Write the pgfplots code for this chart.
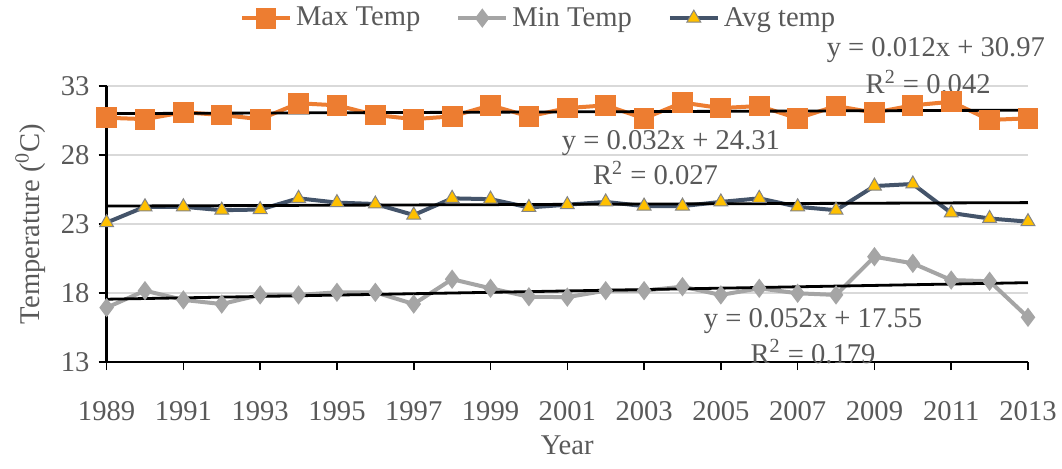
\documentclass[border=0pt]{standalone}
\usepackage{fontspec}
\setmainfont{Liberation Serif}
\usepackage{pgfplots}
\pgfplotsset{compat=1.18}
\definecolor{maxc}{HTML}{ED7D31}
\definecolor{minc}{HTML}{A5A5A5}
\definecolor{avgc}{HTML}{44546A}
\definecolor{avgm}{HTML}{FFC000}
\definecolor{txt}{HTML}{595959}
\definecolor{grd}{HTML}{D9D9D9}
\newcommand{\cf}{\fontsize{14.3}{16}\selectfont}
\begin{document}
\begin{tikzpicture}
\begin{axis}[
  at={(0,0)}, anchor=south west,
  scale only axis, width=460.7pt, height=138pt,
  xmin=1989, xmax=2013, ymin=13, ymax=33,
  xtick={1989,1991,...,2013}, ytick={13,18,...,33},
  /pgf/number format/1000 sep={},
  /pgf/number format/assume math mode=true,
  axis x line=bottom, axis y line=left,
  axis line style={-, black, line width=1.1pt},
  tick style={black, line width=0.8pt},
  tick align=outside, major tick length=4pt,
  ymajorgrids, grid style={grd, line width=0.7pt},
  tick label style={font=\cf, text=txt},
  xticklabel style={yshift=-12pt},
  yticklabel style={xshift=-1pt},
  xlabel={Year}, ylabel={Temperature (\textsuperscript{0}C)},
  label style={font=\cf, text=txt},
  xlabel style={yshift=-1pt},
  ylabel style={yshift=1pt},
  clip=false,
  legend columns=3,
  legend style={at={(0.47,1.246)}, anchor=center, draw=none, fill=none,
    font=\cf, text=txt, /tikz/every even column/.append style={column sep=16pt}},
  legend image code/.code={\draw[mark repeat=2,mark phase=2,#1] plot coordinates {(0pt,0pt) (12pt,0pt) (24pt,0pt)};},
]
\addplot[color=maxc, line width=2pt, mark=square*, mark size=4.2pt, mark options={fill=maxc, draw=maxc}] coordinates {
(1989,30.7) (1990,30.6) (1991,31.1) (1992,30.9) (1993,30.6) (1994,31.75) (1995,31.6) (1996,30.9)
(1997,30.6) (1998,30.8) (1999,31.6) (2000,30.8) (2001,31.4) (2002,31.6) (2003,30.65) (2004,31.8)
(2005,31.4) (2006,31.55) (2007,30.66) (2008,31.55) (2009,31.07) (2010,31.6) (2011,31.86) (2012,30.54) (2013,30.66)};
\addlegendentry{Max Temp}
\addplot[color=minc, line width=2pt, mark=diamond*, mark size=3.2pt, mark options={fill=minc, draw=minc}] coordinates {
(1989,16.94) (1990,18.17) (1991,17.5) (1992,17.2) (1993,17.86) (1994,17.86) (1995,18.05) (1996,18.05)
(1997,17.2) (1998,19.0) (1999,18.34) (2000,17.73) (2001,17.7) (2002,18.17) (2003,18.17) (2004,18.46)
(2005,17.86) (2006,18.34) (2007,17.98) (2008,17.86) (2009,20.63) (2010,20.15) (2011,18.94) (2012,18.85) (2013,16.24)};
\addlegendentry{Min Temp}
\addplot[color=avgc, line width=2pt, mark=triangle*, mark size=4pt, mark options={fill=avgm, draw=minc!80!black, line width=0.5pt}] coordinates {
(1989,23.1) (1990,24.25) (1991,24.25) (1992,24.0) (1993,24.05) (1994,24.86) (1995,24.55) (1996,24.45)
(1997,23.65) (1998,24.86) (1999,24.8) (2000,24.2) (2001,24.4) (2002,24.6) (2003,24.3) (2004,24.3)
(2005,24.6) (2006,24.86) (2007,24.25) (2008,24.0) (2009,25.75) (2010,25.9) (2011,23.8) (2012,23.4) (2013,23.17)};
\addlegendentry{Avg temp}
% linear trend lines
\addplot[black, line width=1.4pt, forget plot] coordinates {(1989,31.0) (2013,31.25)};
\addplot[black, line width=1.4pt, forget plot] coordinates {(1989,24.3) (2013,24.55)};
\addplot[black, line width=1.4pt, forget plot] coordinates {(1989,17.55) (2013,18.75)};
\node[font=\cf, text=txt] at (axis cs:2010.6,35.6) {y = 0.012x + 30.97};
\node[font=\cf, text=txt] at (axis cs:2010.4,33.3) {R\textsuperscript{2} = 0.042};
\node[font=\cf, text=txt] at (axis cs:2003.7,28.9) {y = 0.032x + 24.31};
\node[font=\cf, text=txt] at (axis cs:2003.3,26.7) {R\textsuperscript{2} = 0.027};
\node[font=\cf, text=txt] at (axis cs:2007.4,16.0) {y = 0.052x + 17.55};
\node[font=\cf, text=txt] at (axis cs:2007.4,13.75) {R\textsuperscript{2} = 0.179};
\end{axis}
\pgfresetboundingbox
\useasboundingbox (-53.3pt,-53pt) rectangle (477.7pt,181pt);
\end{tikzpicture}
\end{document}
